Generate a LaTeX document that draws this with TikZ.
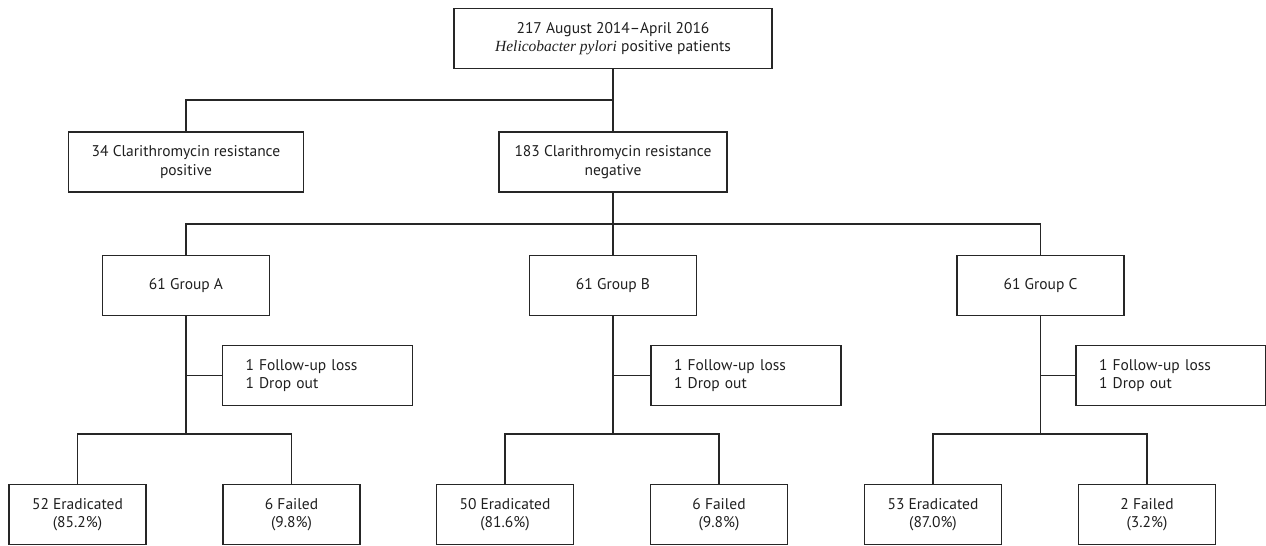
\documentclass[tikz,border=0pt]{standalone}
\usepackage{fontspec}
\setmainfont{PT Sans}
\newfontfamily\spitalic{Liberation Serif}
\begin{document}
\begin{tikzpicture}[x=1pt,y=-1pt,
  every node/.style={font=\fontsize{15.5pt}{18.5pt}\selectfont, text=black!88},
  box/.style={draw=black!85, line width=1.8pt, align=center, inner sep=0pt, minimum height=60pt},
  grpbox/.style={box, minimum width=167pt},
  endbox/.style={box, minimum width=137pt},
  lossbox/.style={box, minimum width=190pt, text width=144pt, align=left, inner xsep=23pt},
  link/.style={draw=black!85, line width=1.8pt}]
\useasboundingbox (0,0) rectangle (1266,546);

% top
\node[box, minimum width=318pt] (top) at (613,38.5) {217 August 2014--April 2016\\{\spitalic\itshape Helicobacter pylori} positive patients};
\node[box, minimum width=235pt] (pos) at (186,162) {34 Clarithromycin resistance\\positive};
\node[box, minimum width=228pt] (neg) at (613,162) {183 Clarithromycin resistance\\negative};
\coordinate (j1) at (613,100);

% groups
\node[grpbox] (gA) at (186,285.5) {61 Group A};
\node[grpbox] (gB) at (613,285.5) {61 Group B};
\node[grpbox] (gC) at (1040.5,285.5) {61 Group C};
\coordinate (j2) at (613,224);

% losses
\node[lossbox] (lA) at (317.5,375.5) {1 Follow-up loss\\1 Drop out};
\node[lossbox] (lB) at (746,375.5) {1 Follow-up loss\\1 Drop out};
\node[lossbox] (lC) at (1171,375.5) {1 Follow-up loss\\1 Drop out};

% outcomes
\node[endbox] (eA) at (77.5,514.5) {52 Eradicated\\(85.2\%)};
\node[endbox] (fA) at (291.5,514.5) {6 Failed\\(9.8\%)};
\node[endbox] (eB) at (505,514.5) {50 Eradicated\\(81.6\%)};
\node[endbox] (fB) at (719,514.5) {6 Failed\\(9.8\%)};
\node[endbox] (eC) at (933,514.5) {53 Eradicated\\(87.0\%)};
\node[endbox] (fC) at (1147,514.5) {2 Failed\\(3.2\%)};

\coordinate (jA) at (186,434);
\coordinate (jB) at (613,434);
\coordinate (jC) at (1040.5,434);

% connectors
\draw[link] (top) -- (neg);
\draw[link] (j1) -| (pos);
\draw[link] (neg) -- (gB);
\draw[link] (j2) -| (gA);
\draw[link] (j2) -| (gC);

\draw[link] (gA) -- (jA);
\draw[link] (gB) -- (jB);
\draw[link] (gC) -- (jC);
\draw[link] (gA.south |- lA.west) -- (lA.west);
\draw[link] (gB.south |- lB.west) -- (lB.west);
\draw[link] (gC.south |- lC.west) -- (lC.west);

\draw[link] (jA) -| (eA);
\draw[link] (jA) -| (fA);
\draw[link] (jB) -| (eB);
\draw[link] (jB) -| (fB);
\draw[link] (jC) -| (eC);
\draw[link] (jC) -| (fC);
\end{tikzpicture}
\end{document}
